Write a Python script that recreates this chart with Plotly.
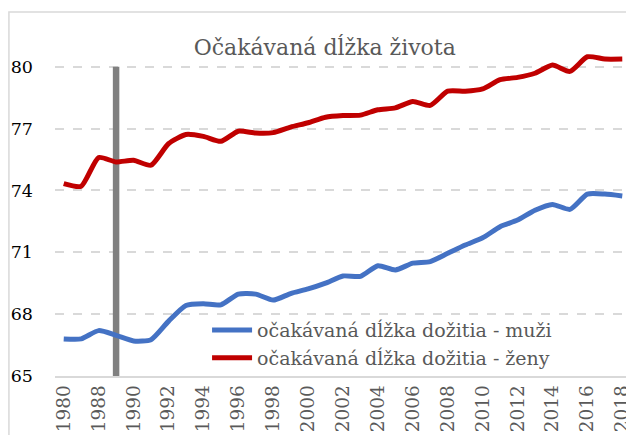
import plotly.graph_objects as go

years = ["1980", "1985", "1988", "1989", "1990", "1991", "1992", "1993", "1994", "1995",
         "1996", "1997", "1998", "1999", "2000", "2001", "2002", "2003", "2004", "2005",
         "2006", "2007", "2008", "2009", "2010", "2011", "2012", "2013", "2014", "2015",
         "2016", "2017", "2018"]

muzi = [66.8, 66.8, 67.2, 66.97, 66.7, 66.76, 67.65, 68.42, 68.5, 68.45,
        68.97, 68.97, 68.68, 69.0, 69.22, 69.5, 69.85, 69.83, 70.35, 70.14,
        70.47, 70.55, 70.95, 71.35, 71.7, 72.24, 72.56, 73.04, 73.32, 73.08,
        73.82, 73.82, 73.73]

zeny = [74.33, 74.2, 75.59, 75.38, 75.46, 75.22, 76.26, 76.71, 76.62, 76.38,
        76.87, 76.78, 76.8, 77.07, 77.28, 77.55, 77.63, 77.65, 77.91, 78.0,
        78.31, 78.12, 78.81, 78.81, 78.92, 79.37, 79.48, 79.68, 80.08, 79.77,
        80.48, 80.37, 80.37]

marker_x = ["1989", "1989"]
marker_y = [65, 80]

tick_labels = years[::2]

title_text = "Očakávaná dĺžka života"
name_m = "očakávaná dĺžka dožitia - muži"
name_z = "očakávaná dĺžka dožitia - ženy"

FONT = "DejaVu Serif"

fig = go.Figure()
fig.add_trace(go.Scatter(x=marker_x, y=marker_y, mode="lines",
                         line=dict(color="#808080", width=6.5),
                         showlegend=False, hoverinfo="skip"))
fig.add_trace(go.Scatter(x=years, y=muzi, mode="lines", name=name_m,
                         line=dict(color="#4472C4", width=5, shape="spline", smoothing=0.6)))
fig.add_trace(go.Scatter(x=years, y=zeny, mode="lines", name=name_z,
                         line=dict(color="#C00000", width=5, shape="spline", smoothing=0.6)))

# page body has an 8px margin, so the figure is drawn at (8, 8)
fig.update_layout(
    width=626, height=427,
    margin=dict(l=47, r=3, t=37, b=59, autoexpand=False),
    paper_bgcolor="white", plot_bgcolor="white",
    font=dict(family=FONT, size=17, color="black"),
    title=dict(text=title_text, x=0.506, xanchor="center", y=0.9087, yanchor="middle",
               font=dict(family=FONT, size=22, color="#595959")),
    showlegend=True,
    legend=dict(x=0.264, y=0.196, xanchor="left", yanchor="top",
                bgcolor="rgba(0,0,0,0)", font=dict(family=FONT, size=19, color="#595959"),
                itemwidth=40, tracegroupgap=0),
    xaxis=dict(type="category", categoryorder="array", categoryarray=years,
               range=[-0.5, len(years) - 0.5], automargin=False,
               tickmode="array", tickvals=tick_labels, ticktext=tick_labels,
               tickangle=-90, showgrid=False, showline=True, linecolor="#D9D9D9",
               linewidth=1.5, ticks="", tickfont=dict(size=18.5, color="#595959")),
    yaxis=dict(range=[65, 81.05], tick0=65, dtick=3, showgrid=True, automargin=False,
               gridcolor="#D9D9D9", griddash="dash", gridwidth=1.5,
               zeroline=False, showline=False, ticks="",
               ticklabelstandoff=21, tickfont=dict(size=17.5, color="black")),
)

fig.add_shape(type="path", xref="paper", yref="paper",
              path="M -0.08,-0.2 L -0.08,1.0997 L 1.2,1.0997",
              line=dict(color="#D9D9D9", width=1.5), layer="below")

fig.write_html("out.html")
